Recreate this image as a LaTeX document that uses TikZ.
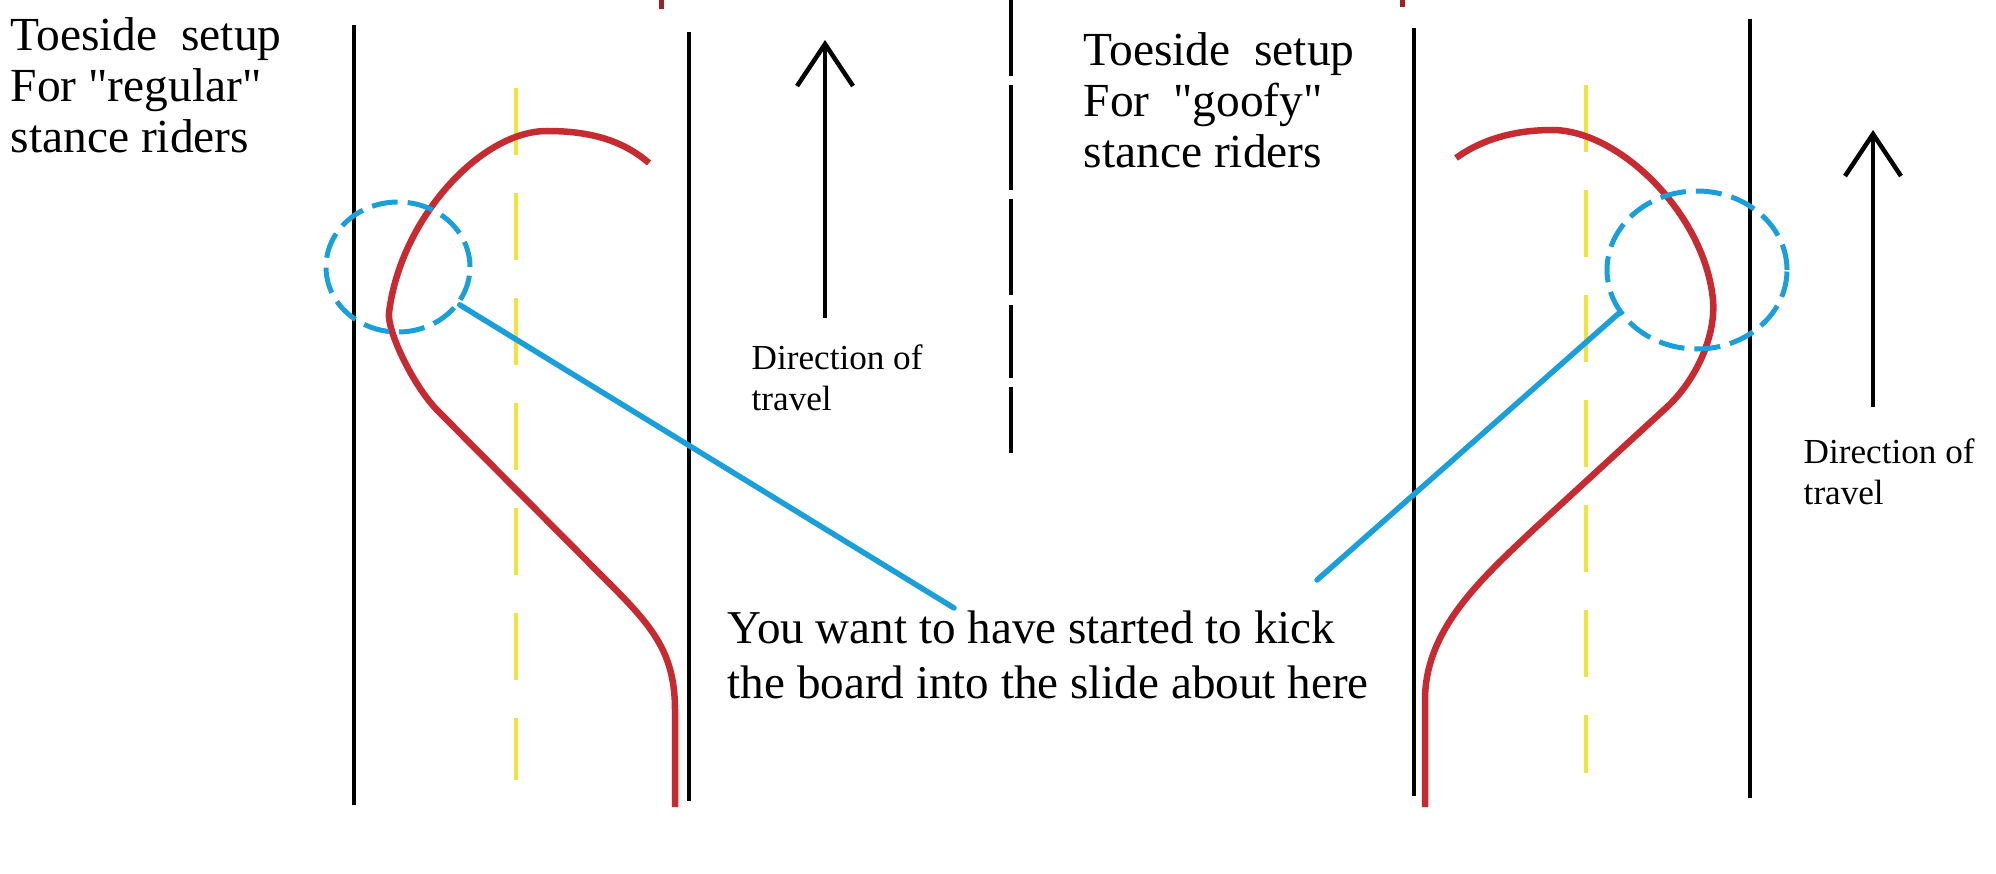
\documentclass[tikz,border=0pt]{standalone}
\usepackage{fontspec}
\setmainfont{Liberation Serif}[Ligatures=TeXOff]
\usepackage{tikz}
\usetikzlibrary{arrows.meta,shapes.geometric}
\definecolor{trackred}{HTML}{C62B32}
\definecolor{spotblue}{HTML}{1A9FDB}
\definecolor{laneyellow}{HTML}{F0E43C}

\begin{document}
\begin{tikzpicture}[
    x=0.1mm,y=-0.1mm,
    road/.style={line width=0.42mm,black},
    midline/.style={line width=0.35mm,laneyellow,dash pattern=on 6.7mm off 3.8mm,dash phase=7mm},
    track/.style={line width=0.65mm,trackred},
    nick/.style={line width=0.5mm,trackred!80!black},
    spot/.style={ellipse,draw=spotblue,line width=0.5mm,dash pattern=on 2.6mm off 1mm,inner sep=0pt},
    pointer/.style={line width=0.55mm,spotblue,line cap=round},
    travel/.style={line width=0.45mm,-{Straight Barb[length=4.2mm,width=5.6mm]}},
    heading/.style={anchor=north west,inner sep=0pt,align=left,font=\fontsize{13.5}{14.5}\selectfont},
    dirtext/.style={anchor=north west,inner sep=0pt,align=left,font=\fontsize{10}{11.8}\selectfont}
]
\useasboundingbox (0,0) rectangle (1996,874);

\draw[road] (354,25) -- (354,805);
\draw[road] (689,32) -- (689,801);
\draw[midline] (516,53) -- (516,780);
\draw[road] (1414,28) -- (1414,796);
\draw[road] (1750,19) -- (1750,798);
\draw[midline] (1586,50) -- (1586,773);
\draw[road,dash pattern=on 7.6mm off 0.9mm on 10.5mm off 0.9mm on 9.6mm off 1mm on 7.3mm off 0.9mm on 6.6mm off 1mm] (1011,0) -- (1011,453);
\draw[nick] (661,0) -- (661,9);
\draw[nick] (1402,0) -- (1402,7);

\draw[track] (649,163) .. controls (620,138) and (585,131) .. (547,131)
  .. controls (480,131) and (400,220) .. (389,313)
  .. controls (387,330) and (412,384) .. (437,410)
  -- (603,577)
  .. controls (650,624) and (675,650) .. (675,710)
  -- (675,807);
\draw[track] (1456,158) .. controls (1485,137) and (1520,130) .. (1552,130)
  .. controls (1620,130) and (1705,215) .. (1713,300)
  .. controls (1716,335) and (1697,379) .. (1667,407)
  -- (1533,530)
  .. controls (1480,580) and (1425,630) .. (1425,700)
  -- (1425,807);

\node[spot,minimum width=14.4mm,minimum height=13mm] (spotL) at (398,267) {};
\node[spot,minimum width=18mm,minimum height=15.8mm] (spotR) at (1697,270) {};

\node[heading] (setupL) at (10,17) {Toeside~~setup\\For "regular"\\stance riders};
\node[heading] (setupR) at (1083,32) {Toeside~~setup\\For~~"goofy"\\stance riders};
\node[dirtext] (dirL) at (751,344) {Direction of\\travel};
\node[dirtext] (dirR) at (1803,438) {Direction of\\travel};
\node[heading,font=\fontsize{13.4}{15.6}\selectfont] (kick) at (727,610) {You want to have started to kick\\the board into the slide about here};

\coordinate (tailL) at (825,318);
\coordinate (headL) at (825,40);
\coordinate (tailR) at (1873,407);
\coordinate (headR) at (1873,130);
\draw[travel] (tailL) -- (headL);
\draw[travel] (tailR) -- (headR);

\coordinate (tipL) at (954,608);
\coordinate (tipR) at (1317,580);
\draw[pointer] (spotL) -- (tipL);
\draw[pointer] (spotR.209) -- (tipR);
\end{tikzpicture}
\end{document}
